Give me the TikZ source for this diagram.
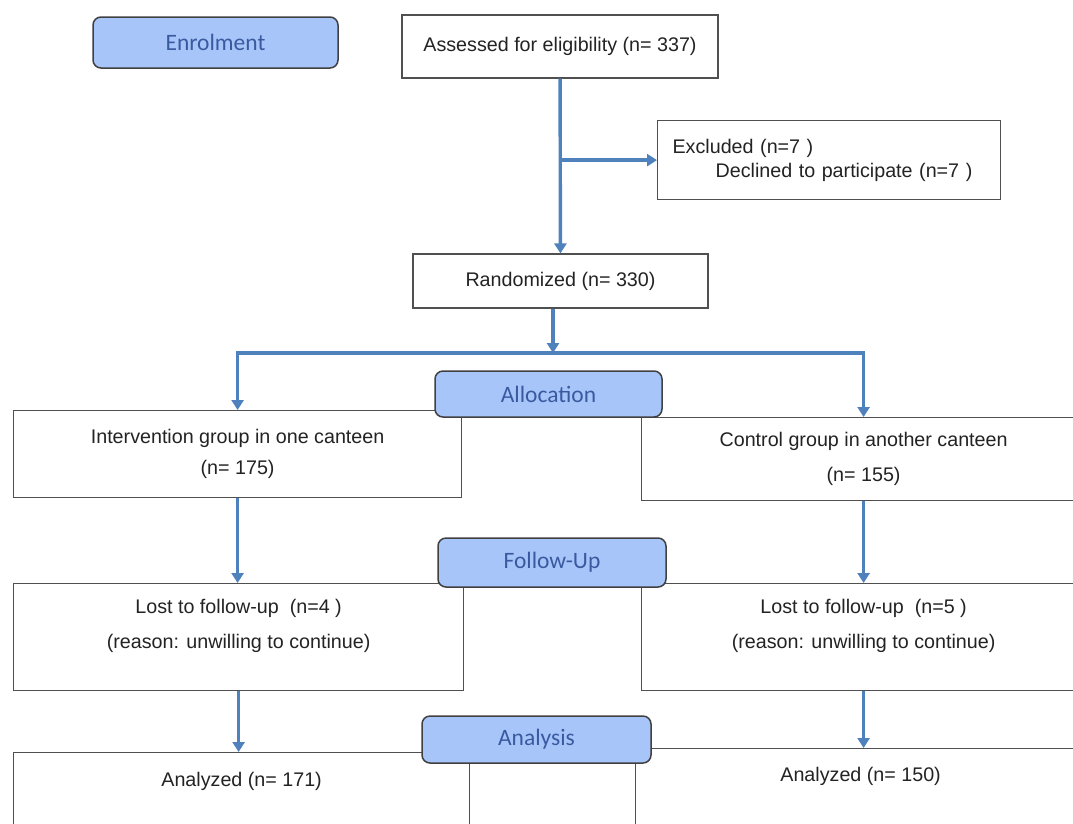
\documentclass[tikz,border=0pt]{standalone}
\usepackage{fontspec}
\setmainfont{Liberation Sans}
\newfontfamily\carlito{Carlito}
\usetikzlibrary{arrows.meta}
\definecolor{flowblue}{RGB}{79,129,189}
\definecolor{phasefill}{RGB}{168,197,250}
\definecolor{phasetext}{RGB}{58,90,160}
\definecolor{boxline}{RGB}{80,80,80}
\definecolor{boxtext}{RGB}{35,35,35}

\begin{document}
\begin{tikzpicture}[x=1pt,y=-1pt,
    box/.style={draw=boxline, line width=1.2pt, fill=white, align=center, inner sep=0pt,
      text=boxtext, font=\fontsize{19.7}{24}\selectfont},
    phase/.style={draw=black!75, line width=1.5pt, fill=phasefill, rounded corners=8pt,
      text=phasetext, font=\carlito\fontsize{23.5}{28}\selectfont},
    flow/.style={draw=flowblue, line width=3.4pt, -{Triangle[length=10pt,width=12pt]}}]
    \useasboundingbox (0,0) rectangle (1073,823);
    \clip (0,0) rectangle (1073,823);

    \node[box, minimum width=316pt, minimum height=63pt] (assessed) at (560,46.5)
      {Assessed for eligibility (n= 337)};
    \node[box, anchor=north west, align=left, text width=313pt, inner xsep=15pt,
      minimum height=79pt] (excluded) at (657,120)
      {Excluded (n=7 )\\\hspace*{43pt}Declined to participate (n=7 )};
    \node[box, minimum width=295pt, minimum height=54pt] (randomized) at (560.5,281)
      {Randomized (n= 330)};
    \node[box, anchor=north west, minimum width=448pt, minimum height=87pt] (interv) at (13,410)
      {Intervention group in one canteen\\[7pt](n= 175)};
    \node[box, anchor=north west, minimum width=444pt, minimum height=83pt] (control) at (641,417)
      {Control group in another canteen\\[11pt](n= 155)\hspace*{0pt}};
    \node[box, anchor=north west, minimum width=450pt, minimum height=107pt] (lostA) at (13,583)
      {Lost to follow-up~ (n=4 )\\[11pt](reason: unwilling to continue)\rule[-26pt]{0pt}{0pt}};
    \node[box, anchor=north west, minimum width=444pt, minimum height=107pt] (lostB) at (641,583)
      {Lost to follow-up~ (n=5 )\\[11pt](reason: unwilling to continue)\rule[-26pt]{0pt}{0pt}};
    \node[box, anchor=north west, minimum width=456pt, text height=34pt, text depth=100pt]
      (analyzedA) at (13,752) {Analyzed (n= 171)};
    \node[box, anchor=north west, minimum width=450pt, text height=33pt, text depth=100pt]
      (analyzedB) at (635,748) {Analyzed (n= 150)};

    % arrows between the boxes
    \coordinate (fork) at (553,353);
    \draw[flow] (assessed) -- (randomized);
    \draw[flow] (assessed.south |- excluded.west) -- (excluded.west);
    \draw[flow] (randomized.south -| fork) -- (fork);
    \draw[flow] (fork) -| (interv.north);
    \draw[flow] (fork) -| (control.north);
    \draw[flow] (interv.south) -- (interv.south |- lostA.north);
    \draw[flow] (control) -- (lostB);
    \draw[flow] (lostA.south) -- (lostA.south |- analyzedA.north);
    \draw[flow] (lostB.south) -- (lostB.south |- analyzedB.north);

    % stage labels
    \node[phase, minimum width=245pt, minimum height=51pt] (enrol) at (215.5,42.5) {Enrolment};
    \node[phase, minimum width=227pt, minimum height=46pt] (alloc) at (548.5,394) {Allocation};
    \node[phase, minimum width=228pt, minimum height=49pt] (follow) at (552,562.5) {Follow-Up};
    \node[phase, minimum width=229pt, minimum height=47pt] (analysis) at (536.5,739.5) {Analysis};
  \end{tikzpicture}
\end{document}
